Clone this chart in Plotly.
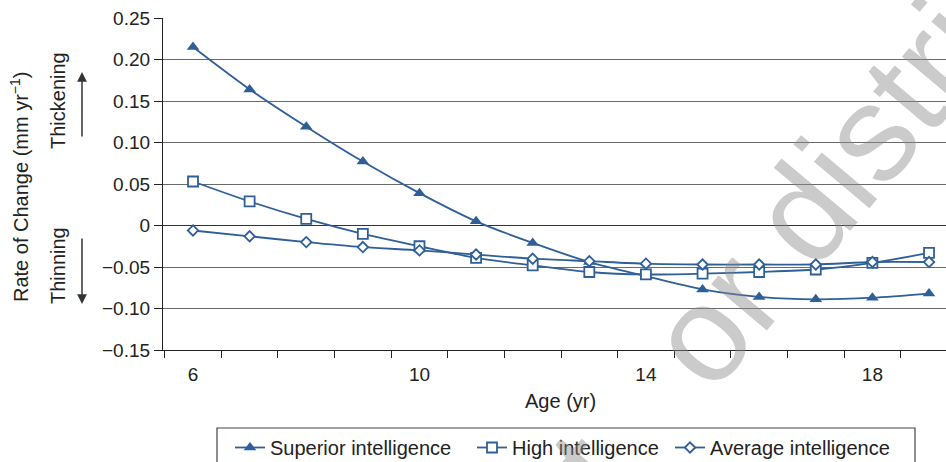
import plotly.graph_objects as go

ages = [6, 7, 8, 9, 10, 11, 12, 13, 14, 15, 16, 17, 18, 19]
superior = [0.215, 0.164, 0.119, 0.077, 0.039, 0.005, -0.021, -0.044, -0.061, -0.077, -0.086, -0.089, -0.087, -0.082]
high = [0.053, 0.029, 0.008, -0.010, -0.025, -0.039, -0.048, -0.056, -0.059, -0.058, -0.056, -0.053, -0.045, -0.033]
average = [-0.006, -0.013, -0.020, -0.026, -0.030, -0.035, -0.040, -0.043, -0.046, -0.047, -0.047, -0.047, -0.044, -0.044]

y_tickvals = [0.25, 0.20, 0.15, 0.10, 0.05, 0, -0.05, -0.10, -0.15]
y_ticktext = ["0.25", "0.20", "0.15", "0.10", "0.05", "0", "\u22120.05", "\u22120.10", "\u22120.15"]
x_tickvals = [6, 10, 14, 18]
x_ticktext = ["6", "10", "14", "18"]

BLUE = "#2F5F98"
FONT = "Liberation Sans, Arial, sans-serif"

W, H = 946, 462
L, R, T, B = 163, 0, 18, 112
PW, PH = W - L - R, H - T - B

def px(x):
    return (x - L) / PW

def py(y):
    return (H - B - y) / PH

fig = go.Figure()
fig.add_trace(go.Scatter(
    x=ages, y=superior, name="Superior intelligence", mode="lines+markers", legend="legend",
    line=dict(color=BLUE, width=1.8, shape="spline", smoothing=0.8),
    marker=dict(symbol="triangle-up", size=11, color=BLUE),
))
fig.add_trace(go.Scatter(
    x=ages, y=high, name="High intelligence", mode="lines+markers", legend="legend2",
    line=dict(color=BLUE, width=1.8, shape="spline", smoothing=0.8),
    marker=dict(symbol="square", size=10, color="white", line=dict(color=BLUE, width=1.8)),
))
fig.add_trace(go.Scatter(
    x=ages, y=average, name="Average intelligence", mode="lines+markers", legend="legend3",
    line=dict(color=BLUE, width=1.8, shape="spline", smoothing=0.8),
    marker=dict(symbol="diamond", size=8, color="white", line=dict(color=BLUE, width=1.8)),
))

def legend_at(xpix):
    return dict(
        orientation="h", x=px(xpix), y=py(428), xanchor="left", yanchor="top",
        font=dict(size=20, color="#222"), bgcolor="rgba(0,0,0,0)",
        borderwidth=0, itemwidth=30,
    )

fig.update_layout(
    width=W, height=H,
    margin=dict(l=L, r=R, t=T, b=B, pad=0, autoexpand=False),
    paper_bgcolor="white", plot_bgcolor="white",
    font=dict(family=FONT, size=19, color="#222"),
    showlegend=True,
    legend=legend_at(230),
    legend2=legend_at(472),
    legend3=legend_at(670),
    xaxis=dict(
        range=[5.47, 19.3], showgrid=False, zeroline=False,
        showline=True, linecolor="#222", linewidth=1.3,
        tickvals=x_tickvals, ticktext=x_ticktext, ticks="", ticklabelstandoff=7,
        tickfont=dict(size=19), automargin=False,
        minor=dict(ticks="outside", ticklen=7, tickcolor="#222", tick0=5.5, dtick=1, showgrid=False),
    ),
    yaxis=dict(
        range=[-0.15, 0.25], showgrid=True, gridcolor="#6a6a6a", gridwidth=1,
        zeroline=True, zerolinecolor="#333", zerolinewidth=1,
        showline=True, linecolor="#222", linewidth=1.3,
        tickvals=y_tickvals, ticktext=y_ticktext, ticks="outside", ticklen=8,
        tickcolor="#222", tickfont=dict(size=19), automargin=False,
    ),
)

# legend box (bottom edge cut by the figure edge)
fig.add_shape(type="rect", xref="paper", yref="paper",
              x0=px(217), x1=px(915), y0=py(480), y1=py(428),
              line=dict(color="#444", width=1.2), fillcolor="rgba(0,0,0,0)")

C = dict(xanchor="center", yanchor="middle", showarrow=False)
# axis titles and side labels
fig.add_annotation(text="Age (yr)", xref="paper", yref="paper", x=px(560), y=py(401),
                   font=dict(size=20, color="#222"), **C)
fig.add_annotation(text="Rate of Change (mm yr<sup>\u22121</sup>)", xref="paper", yref="paper",
                   x=px(19), y=py(187), textangle=-90, font=dict(size=20, color="#222"), **C)
fig.add_annotation(text="Thickening", xref="paper", yref="paper", x=px(58), y=py(101),
                   textangle=-90, font=dict(size=20, color="#222"), **C)
fig.add_annotation(text="Thinning", xref="paper", yref="paper", x=px(58), y=py(266),
                   textangle=-90, font=dict(size=20, color="#222"), **C)
# arrows
fig.add_annotation(text="", xref="paper", yref="paper", x=px(82), y=py(72),
                   ax=0, ay=66, showarrow=True, arrowhead=2, arrowsize=1.3,
                   arrowwidth=1.5, arrowcolor="#333")
fig.add_annotation(text="", xref="paper", yref="paper", x=px(82), y=py(304),
                   ax=0, ay=-67, showarrow=True, arrowhead=2, arrowsize=1.3,
                   arrowwidth=1.5, arrowcolor="#333")

# watermark
fig.add_annotation(text="t   or distri", xref="paper", yref="paper", x=px(770), y=py(252),
                   textangle=-50, font=dict(size=137, color="rgba(140,140,140,0.45)", family=FONT), **C)

fig.write_html("out.html", config={"displayModeBar": False},
               post_script="document.body.style.margin='0';document.body.style.overflow='hidden';")
